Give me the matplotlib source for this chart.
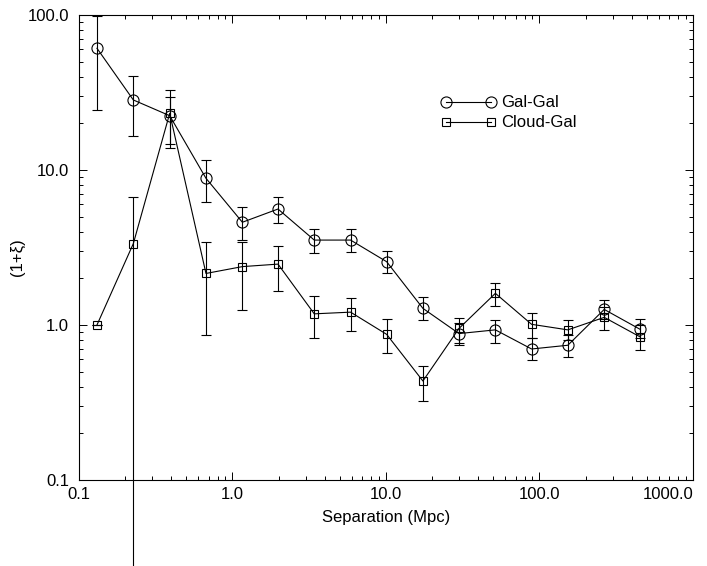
import numpy as np
import matplotlib
matplotlib.use("Agg")
import matplotlib.pyplot as plt
from matplotlib.lines import Line2D
from matplotlib.ticker import FixedLocator, FixedFormatter, LogLocator, NullFormatter

plt.rcParams['font.family'] = ['Liberation Sans', 'DejaVu Sans']

# separation bins (Mpc)
sep = [0.131, 0.226, 0.39, 0.672, 1.16, 1.98, 3.41, 5.88, 10.1, 17.4,
       29.9, 51.6, 88.8, 153, 264, 450]

# Gal-Gal correlation and error bar limits
gal_y = [61.0, 28.3, 22.4, 8.84, 4.6, 5.6, 3.53, 3.53, 2.56, 1.28,
         0.88, 0.93, 0.70, 0.74, 1.26, 0.94]
gal_lo = [24.4, 16.6, 13.9, 6.22, 3.53, 4.57, 2.93, 2.97, 2.15, 1.08,
          0.74, 0.77, 0.594, 0.625, 1.09, 0.82]
gal_hi = [98.6, 40.2, 33.0, 11.55, 5.8, 6.7, 4.18, 4.15, 3.0, 1.51,
          1.03, 1.08, 0.82, 0.86, 1.45, 1.09]

# Cloud-Gal correlation and error bar limits
cloud_y = [1.0, 3.35, 23.2, 2.15, 2.38, 2.47, 1.18, 1.21, 0.87, 0.435,
           0.95, 1.6, 1.01, 0.93, 1.12, 0.84]
cloud_lo = [1.0, 0.0001, 14.7, 0.86, 1.25, 1.66, 0.82, 0.91, 0.66, 0.323,
            0.76, 1.33, 0.83, 0.80, 0.93, 0.69]
cloud_hi = [1.0, 6.7, 29.7, 3.42, 3.42, 3.25, 1.54, 1.49, 1.09, 0.544,
            1.11, 1.86, 1.19, 1.08, 1.30, 1.00]

x_ticks = [0.1, 1.0, 10.0, 100.0, 1000.0]
x_labels = ["0.1", "1.0", "10.0", "100.0", "1000.0"]
y_ticks = [0.1, 1.0, 10.0, 100.0]
y_labels = ["0.1", "1.0", "10.0", "100.0"]


def bars(y, lo, hi):
    y = np.array(y)
    return [y - np.array(lo), np.array(hi) - y]


fig = plt.figure(figsize=(7.07, 5.66), dpi=100)
ax = fig.add_axes([0.1117, 0.152, 0.8685, 0.8215])

gal_style = dict(color='black', lw=0.8, marker='o', ms=8, mfc='none',
                 mec='black', mew=0.8)
cloud_style = dict(color='black', lw=0.8, marker='s', ms=5.5, mfc='none',
                   mec='black', mew=0.8)

ax.errorbar(sep, gal_y, yerr=bars(gal_y, gal_lo, gal_hi),
            elinewidth=0.8, capsize=3.5, capthick=0.8, **gal_style)
eb = ax.errorbar(sep, cloud_y, yerr=bars(cloud_y, cloud_lo, cloud_hi),
                 elinewidth=0.8, capsize=3.5, capthick=0.8, **cloud_style)
# the huge lower error bar runs past the frame in the original
for coll in eb.lines[2]:
    coll.set_clip_on(False)

ax.set_xscale('log')
ax.set_yscale('log')
ax.set_xlim(0.1, 1000)
ax.set_ylim(0.1, 100)

ax.xaxis.set_major_locator(FixedLocator(x_ticks))
ax.xaxis.set_major_formatter(FixedFormatter(x_labels))
ax.yaxis.set_major_locator(FixedLocator(y_ticks))
ax.yaxis.set_major_formatter(FixedFormatter(y_labels))
ax.xaxis.set_minor_locator(LogLocator(base=10, subs=np.arange(2, 10)))
ax.yaxis.set_minor_locator(LogLocator(base=10, subs=np.arange(2, 10)))
ax.xaxis.set_minor_formatter(NullFormatter())
ax.yaxis.set_minor_formatter(NullFormatter())

ax.tick_params(which='both', direction='in', top=True, right=True, width=0.7)
ax.tick_params(which='major', length=6)
ax.tick_params(which='minor', length=3)
ax.tick_params(axis='x', labelsize=12, pad=5)
ax.tick_params(axis='y', labelsize=12, pad=7)
ax.get_xticklabels()[-1].set_horizontalalignment('right')

for s in ax.spines.values():
    s.set_linewidth(0.8)

ax.set_xlabel("Separation (Mpc)", fontsize=12, labelpad=6)
ax.set_ylabel("(1+ξ)", fontsize=12)
ax.yaxis.set_label_coords(-0.088, 0.48)

handles = [Line2D([], [], **gal_style), Line2D([], [], **cloud_style)]
ax.legend(handles, ['Gal-Gal', 'Cloud-Gal'], loc='upper left',
          bbox_to_anchor=(0.59, 0.827), frameon=False,
          fontsize=12, numpoints=2, handlelength=3.3, handletextpad=0.3,
          borderpad=0, borderaxespad=0, labelspacing=0.3)

fig.savefig("out.png", dpi=100)
